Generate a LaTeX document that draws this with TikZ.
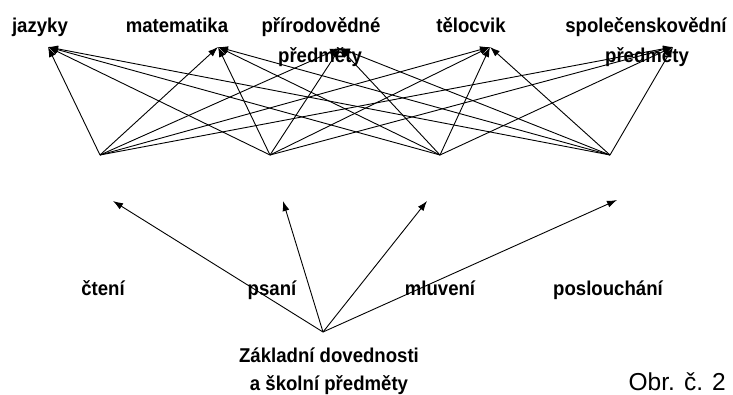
\documentclass[tikz,border=0pt]{standalone}
\usepackage{fontspec}
\setmainfont{Liberation Sans}
\newfontfamily\narrowbold[FakeStretch=0.93]{Liberation Sans Bold}
\usetikzlibrary{arrows.meta, positioning}

\begin{document}
\begin{tikzpicture}[
    x=1pt, y=-1pt,
    label/.style={font=\fontsize{20}{22}\narrowbold, inner sep=0pt, anchor=base},
    link/.style={line width=0.9pt, -{Latex[length=10pt, width=7pt]}},
]
    \useasboundingbox (0,0) rectangle (733,394);

    % Subjects (top)
    \node[label] (jaz) at (40, 32) {jazyky};
    \node[label] (mat) at (177, 32) {matematika};
    \node[label] (pri) at (321, 32) {přírodovědné};
    \node[label] (pri2) at (320, 62) {předměty};
    \node[label] (tel) at (471, 32) {tělocvik};
    \node[label] (spo) at (646, 32) {společenskovědní};
    \node[label] (spo2) at (647, 62) {předměty};

    % Arrow tips under the subjects
    \coordinate (t1) at (48, 47);
    \coordinate (t2) at (218, 47);
    \coordinate (t3) at (340, 48);
    \coordinate (t4) at (490, 47);
    \coordinate (t5) at (673, 47);

    % Skills (bottom row)
    \node[label] (cte) at (103, 295) {čtení};
    \node[label] (psa) at (272, 295) {psaní};
    \node[label] (mlu) at (440, 295) {mluvení};
    \node[label] (pos) at (608, 295) {poslouchání};

    % Fan-out points
    \foreach \i/\x in {1/100, 2/270, 3/440, 4/610} {
        \coordinate (s\i) at (\x, 155);
    }
    \foreach \i in {1,...,4} {
        \foreach \j in {1,...,5} {
            \draw[link] (s\i) -- (t\j);
        }
    }

    % Root
    \node[label] (root) at (329, 362) {Základní dovednosti};
    \node[label] (root2) at (329, 390) {a školní předměty};
    \coordinate (o) at (323, 332);
    \coordinate (b1) at (113, 201);
    \coordinate (b2) at (283, 201);
    \coordinate (b3) at (427, 201);
    \coordinate (b4) at (617, 200);
    \foreach \k in {1,...,4} {
        \draw[link] (o) -- (b\k);
    }

    % Caption
    \node[font=\fontsize{24.5}{28}\selectfont, inner sep=0pt, anchor=base east] (obr) at (726, 390) {Obr. č. 2};
\end{tikzpicture}
\end{document}
